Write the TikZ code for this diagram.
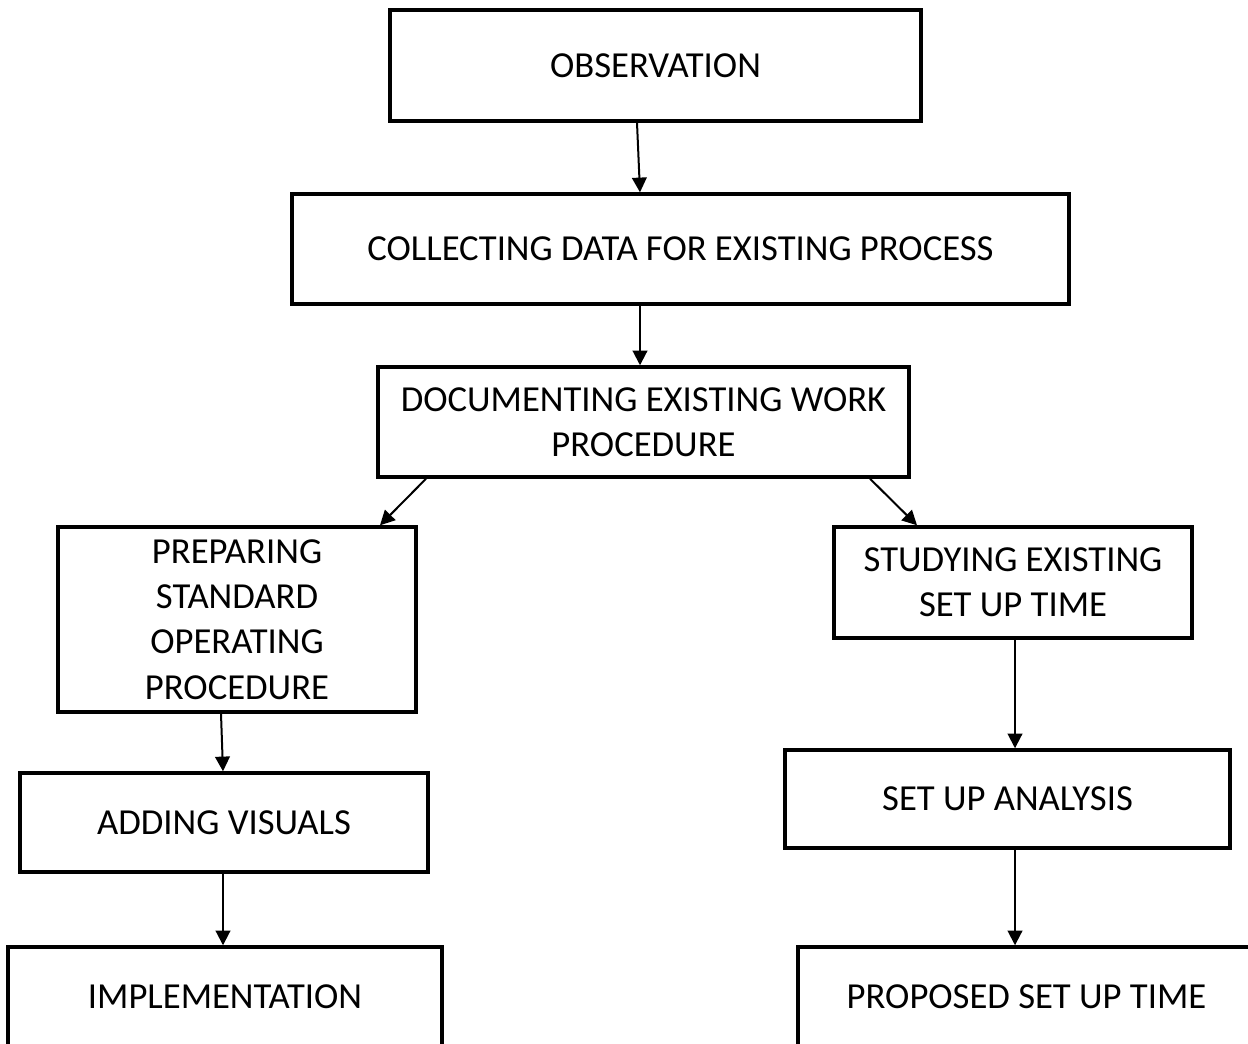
\documentclass[tikz,border=0pt]{standalone}
\usepackage{fontspec}
\setmainfont{Carlito}
\usetikzlibrary{arrows.meta}
\begin{document}
\begin{tikzpicture}[x=0.75pt,y=-0.75pt,
  box/.style={draw=black,line width=2.6pt,rectangle,inner sep=0pt,align=center,font=\fontsize{27.5}{34}\selectfont},
  arr/.style={line width=1.5pt,-{Triangle[length=11pt,width=11pt]}}]
\useasboundingbox (0,0) rectangle (1248,1043);
\node[box,minimum width=531*0.75pt,minimum height=111*0.75pt] (obs) at (655.5,65.5) {OBSERVATION};
\node[box,minimum width=777*0.75pt,minimum height=110*0.75pt] (col) at (680.5,249) {COLLECTING DATA FOR EXISTING PROCESS};
\node[box,minimum width=531*0.75pt,minimum height=110*0.75pt] (doc) at (643.5,422) {DOCUMENTING EXISTING WORK\\PROCEDURE};
\node[box,minimum width=358*0.75pt,minimum height=185*0.75pt] (prep) at (237,619.5) {PREPARING\\STANDARD\\OPERATING\\PROCEDURE};
\node[box,minimum width=358*0.75pt,minimum height=111*0.75pt] (stud) at (1013,582.5) {STUDYING EXISTING\\SET UP TIME};
\node[box,minimum width=408*0.75pt,minimum height=99*0.75pt] (add) at (224,822.5) {ADDING VISUALS};
\node[box,minimum width=445*0.75pt,minimum height=98*0.75pt] (setup) at (1007.5,799) {SET UP ANALYSIS};
\node[box,minimum width=434*0.75pt,minimum height=100*0.75pt] (impl) at (225,997) {IMPLEMENTATION};
\node[box,minimum width=457*0.75pt,minimum height=100*0.75pt] (prop) at (1026.5,997) {PROPOSED SET UP TIME};
\draw[arr] ([xshift=-18.5*0.75pt]obs.south) -- ([xshift=-40.5*0.75pt]col.north);
\draw[arr] ([xshift=-40.5*0.75pt]col.south) -- ([xshift=-3.5*0.75pt]doc.north);
\draw[arr] ([xshift=-217.5*0.75pt]doc.south) -- ([xshift=143*0.75pt]prep.north);
\draw[arr] ([xshift=226.5*0.75pt]doc.south) -- ([xshift=-96*0.75pt]stud.north);
\draw[arr] ([xshift=-16*0.75pt]prep.south) -- ([xshift=-1*0.75pt]add.north);
\draw[arr] ([xshift=-1*0.75pt]add.south) -- ([xshift=-2*0.75pt]impl.north);
\draw[arr] ([xshift=2*0.75pt]stud.south) -- ([xshift=7.5*0.75pt]setup.north);
\draw[arr] ([xshift=7.5*0.75pt]setup.south) -- ([xshift=-11.5*0.75pt]prop.north);
\end{tikzpicture}
\end{document}
